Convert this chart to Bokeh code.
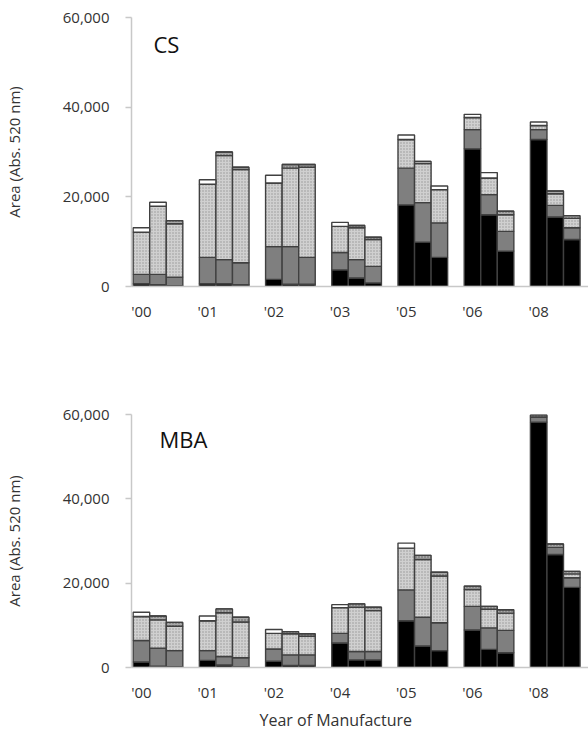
from bokeh.plotting import figure
from bokeh.layouts import column
from bokeh.models import ColumnDataSource, FixedTicker, NumeralTickFormatter, Label, Range1d, Title
from bokeh.embed import file_html
from bokeh.resources import INLINE

# ---------------- data (values in Abs. 520 nm area units) ----------------
cs_years = ["'00", "'01", "'02", "'03", "'05", "'06", "'08"]
mba_years = ["'00", "'01", "'02", "'04", "'05", "'06", "'08"]

# CS panel: segment heights, 3 bars per year
cs_black = [600, 400, 200, 600, 600, 400, 1600, 500, 500, 3700, 1900, 800,
            18200, 9900, 6500, 30700, 16000, 7900, 32800, 15500, 10500]
cs_gray = [2100, 2300, 1900, 5900, 5400, 4900, 7300, 8400, 6000, 3900, 4100, 3700,
           8200, 8800, 7700, 4300, 4500, 4400, 2200, 2600, 2600]
cs_light = [9400, 15200, 11900, 16300, 23200, 20800, 14200, 17500, 20100, 5800, 7100, 6000,
            6400, 8700, 7400, 2700, 3700, 3700, 900, 2600, 2100]
cs_band = [0, 0, 700, 0, 800, 500, 0, 800, 600, 0, 500, 500,
           0, 500, 0, 0, 0, 800, 0, 600, 600]
cs_white = [1000, 900, 0, 1000, 0, 0, 1700, 0, 0, 900, 0, 0,
            1000, 0, 800, 700, 1200, 0, 800, 0, 0]

# MBA panel
mba_black = [1300, 300, 200, 1700, 600, 200, 1500, 500, 500, 5800, 1800, 1800,
             11100, 5100, 4000, 8900, 4300, 3500, 58200, 26800, 19000]
mba_gray = [5100, 4300, 3800, 2300, 2000, 2100, 2900, 2500, 2500, 2300, 2000, 2000,
            7300, 6800, 6600, 5600, 5100, 5300, 1200, 1700, 2300]
mba_light = [5700, 6700, 5800, 7100, 10400, 8500, 3700, 5000, 4400, 6100, 10500, 9700,
             9900, 13700, 11100, 4000, 4400, 4100, 0, 0, 900]
mba_band = [0, 900, 900, 0, 900, 1100, 0, 500, 600, 0, 800, 800,
            0, 1000, 900, 800, 700, 800, 500, 800, 600]
mba_white = [1000, 0, 0, 1100, 0, 0, 900, 0, 0, 700, 0, 0,
             1200, 0, 0, 0, 0, 0, 0, 0, 0]

y_ticks = [0, 20000, 40000, 60000]

FONT = "Open Sans"
TXT = "#333333"
AXIS = "#c8c8c8"
stackers = ["black", "gray", "light", "band", "white"]
fills = ["#000000", "#7f7f7f", "#d0d0d0", "#a8a8a8", "#ffffff"]
hatches = [" ", " ", "dot", "dot", " "]
hatch_cols = ["#000000", "#000000", "#969696", "#5a5a5a", "#000000"]


def make_panel(years, segs, title, frame_h, top, bottom, title_xy, show_xlabel):
    xs = []
    for g in range(len(years)):
        for j in range(3):
            xs.append(g * 4 + j + 1)
    src = ColumnDataSource(dict(x=xs, black=segs[0], gray=segs[1], light=segs[2],
                                band=segs[3], white=segs[4]))
    p = figure(frame_width=458, frame_height=frame_h,
               output_backend="svg", toolbar_location=None,
               x_range=Range1d(0.4, 28.07), y_range=Range1d(0, 60000),
               min_border_left=130, min_border_right=0,
               min_border_top=top, min_border_bottom=bottom)
    p.vbar_stack(stackers, x="x", width=1, source=src,
                 fill_color=fills, hatch_pattern=hatches, hatch_color=hatch_cols,
                 hatch_scale=3, hatch_weight=0.8,
                 line_color="#404040", line_width=1.4)
    p.outline_line_color = None
    p.xgrid.visible = False
    p.ygrid.visible = False

    p.yaxis.ticker = FixedTicker(ticks=y_ticks)
    p.yaxis.formatter = NumeralTickFormatter(format="0,0")
    p.yaxis.axis_line_color = AXIS
    p.yaxis.axis_line_width = 1.5
    p.yaxis.major_tick_line_color = AXIS
    p.yaxis.major_tick_line_width = 1.5
    p.yaxis.major_tick_out = 6
    p.yaxis.major_tick_in = 0
    p.yaxis.minor_tick_line_color = None
    p.yaxis.major_label_standoff = 16
    p.yaxis.major_label_text_font = FONT
    p.yaxis.major_label_text_font_size = "15px"
    p.yaxis.major_label_text_color = TXT
    p.yaxis.axis_label = "Area (Abs. 520 nm)"
    p.yaxis.axis_label_text_font = FONT
    p.yaxis.axis_label_text_font_size = "15px"
    p.yaxis.axis_label_text_font_style = "normal"
    p.yaxis.axis_label_text_color = TXT
    p.yaxis.axis_label_standoff = 36

    tick_pos = [g * 4 + 1 for g in range(len(years))]
    p.xaxis.ticker = FixedTicker(ticks=tick_pos)
    p.xaxis.major_label_overrides = {t: lab for t, lab in zip(tick_pos, years)}
    p.xaxis.axis_line_color = AXIS
    p.xaxis.axis_line_width = 1.5
    p.xaxis.major_tick_line_color = None
    p.xaxis.minor_tick_line_color = None
    p.xaxis.major_label_standoff = 8
    p.xaxis.major_label_text_font = FONT
    p.xaxis.major_label_text_font_size = "15px"
    p.xaxis.major_label_text_color = TXT

    p.add_layout(Label(x=title_xy[0], y=title_xy[1], x_units="screen", y_units="screen",
                       text=title, text_font=FONT, text_font_size="22px",
                       text_color="#111111", text_baseline="alphabetic"))
    if show_xlabel:
        p.add_layout(Title(text="Year of Manufacture", align="left", offset=128,
                           text_font=FONT, text_font_size="16px",
                           text_font_style="normal", text_color=TXT,
                           standoff=4), "below")
    return p


p1 = make_panel(cs_years, [cs_black, cs_gray, cs_light, cs_band, cs_white],
                "CS", 269, 17, 68, (22, 243), False)
p2 = make_panel(mba_years, [mba_black, mba_gray, mba_light, mba_band, mba_white],
                "MBA", 253, 60, 0, (28, 229), True)

layout = column(p1, p2, spacing=0)
open("out.html", "w").write(file_html(layout, INLINE))
